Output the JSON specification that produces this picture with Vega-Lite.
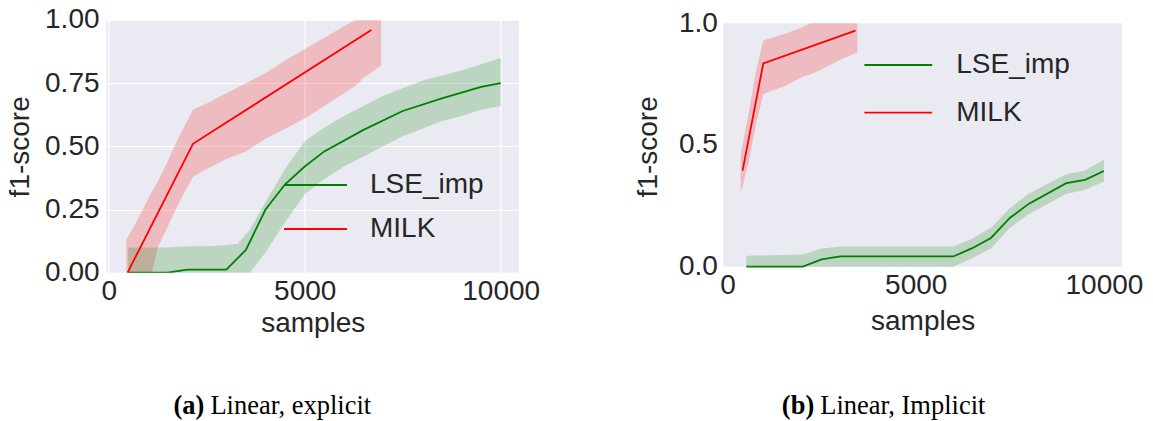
{
  "$schema": "https://vega.github.io/schema/vega-lite/v6.json",
  "background": "white",
  "padding": {"left": 6.5, "top": 6, "right": 0, "bottom": 0},
  "spacing": 93.8,
  "resolve": {"scale": {"stroke": "independent"}, "legend": {"stroke": "independent"}},
  "config": {
    "font": "Liberation Sans",
    "view": {"stroke": null},
    "axis": {
      "domain": false, "ticks": false, "tickSize": 0, "grid": true,
      "gridColor": "#FFFFFF", "gridWidth": 1.2,
      "labelFont": "Liberation Sans", "labelFontSize": 28, "labelColor": "#262626",
      "titleFont": "Liberation Sans", "titleFontSize": 28, "titleFontWeight": "normal", "titleColor": "#262626"
    }
  },
  "datasets": {
    "leftBand": [
      {"samples": 450, "series": "MILK", "lo": 0, "hi": 0.13},
      {"samples": 700, "series": "MILK", "lo": 0, "hi": 0.2},
      {"samples": 1000, "series": "MILK", "lo": 0, "hi": 0.29},
      {"samples": 1100, "series": "MILK", "lo": 0, "hi": 0.32},
      {"samples": 1250, "series": "MILK", "lo": 0.1, "hi": 0.36},
      {"samples": 1500, "series": "MILK", "lo": 0.18, "hi": 0.44},
      {"samples": 1800, "series": "MILK", "lo": 0.28, "hi": 0.54},
      {"samples": 2150, "series": "MILK", "lo": 0.38, "hi": 0.645},
      {"samples": 2500, "series": "MILK", "lo": 0.41, "hi": 0.67},
      {"samples": 3000, "series": "MILK", "lo": 0.45, "hi": 0.71},
      {"samples": 3500, "series": "MILK", "lo": 0.48, "hi": 0.75},
      {"samples": 4000, "series": "MILK", "lo": 0.53, "hi": 0.79},
      {"samples": 4500, "series": "MILK", "lo": 0.57, "hi": 0.84},
      {"samples": 5000, "series": "MILK", "lo": 0.61, "hi": 0.885},
      {"samples": 5500, "series": "MILK", "lo": 0.66, "hi": 0.93},
      {"samples": 6000, "series": "MILK", "lo": 0.71, "hi": 0.975},
      {"samples": 6300, "series": "MILK", "lo": 0.74, "hi": 1.0},
      {"samples": 6500, "series": "MILK", "lo": 0.77, "hi": 1.0},
      {"samples": 6950, "series": "MILK", "lo": 0.82, "hi": 1.0},
      {"samples": 500, "series": "LSE_imp", "lo": 0, "hi": 0.1},
      {"samples": 1000, "series": "LSE_imp", "lo": 0, "hi": 0.1},
      {"samples": 1500, "series": "LSE_imp", "lo": 0, "hi": 0.1},
      {"samples": 2000, "series": "LSE_imp", "lo": 0, "hi": 0.105},
      {"samples": 2500, "series": "LSE_imp", "lo": 0, "hi": 0.105},
      {"samples": 3000, "series": "LSE_imp", "lo": 0, "hi": 0.11},
      {"samples": 3300, "series": "LSE_imp", "lo": 0, "hi": 0.115},
      {"samples": 3600, "series": "LSE_imp", "lo": 0, "hi": 0.17},
      {"samples": 4000, "series": "LSE_imp", "lo": 0.08, "hi": 0.28},
      {"samples": 4500, "series": "LSE_imp", "lo": 0.2, "hi": 0.41},
      {"samples": 5000, "series": "LSE_imp", "lo": 0.31, "hi": 0.52},
      {"samples": 5500, "series": "LSE_imp", "lo": 0.37, "hi": 0.575},
      {"samples": 6000, "series": "LSE_imp", "lo": 0.42, "hi": 0.62},
      {"samples": 6500, "series": "LSE_imp", "lo": 0.46, "hi": 0.66},
      {"samples": 7000, "series": "LSE_imp", "lo": 0.5, "hi": 0.7},
      {"samples": 7500, "series": "LSE_imp", "lo": 0.54, "hi": 0.73},
      {"samples": 8000, "series": "LSE_imp", "lo": 0.57, "hi": 0.76},
      {"samples": 8500, "series": "LSE_imp", "lo": 0.6, "hi": 0.78},
      {"samples": 9000, "series": "LSE_imp", "lo": 0.62, "hi": 0.8},
      {"samples": 9500, "series": "LSE_imp", "lo": 0.645, "hi": 0.825},
      {"samples": 10000, "series": "LSE_imp", "lo": 0.66, "hi": 0.85}
    ],
    "leftLine": [
      {"samples": 500, "series": "LSE_imp", "f1": 0},
      {"samples": 1500, "series": "LSE_imp", "f1": 0},
      {"samples": 2000, "series": "LSE_imp", "f1": 0.012},
      {"samples": 3000, "series": "LSE_imp", "f1": 0.012},
      {"samples": 3500, "series": "LSE_imp", "f1": 0.09},
      {"samples": 4000, "series": "LSE_imp", "f1": 0.25},
      {"samples": 4500, "series": "LSE_imp", "f1": 0.35},
      {"samples": 5000, "series": "LSE_imp", "f1": 0.42},
      {"samples": 5500, "series": "LSE_imp", "f1": 0.48},
      {"samples": 6500, "series": "LSE_imp", "f1": 0.565},
      {"samples": 7500, "series": "LSE_imp", "f1": 0.64},
      {"samples": 8500, "series": "LSE_imp", "f1": 0.69},
      {"samples": 9500, "series": "LSE_imp", "f1": 0.735},
      {"samples": 10000, "series": "LSE_imp", "f1": 0.75},
      {"samples": 480, "series": "MILK", "f1": 0},
      {"samples": 2150, "series": "MILK", "f1": 0.51},
      {"samples": 6700, "series": "MILK", "f1": 0.96}
    ],
    "rightBand": [
      {"samples": 350, "series": "MILK", "lo": 0.3, "hi": 0.46},
      {"samples": 550, "series": "MILK", "lo": 0.42, "hi": 0.62},
      {"samples": 750, "series": "MILK", "lo": 0.58, "hi": 0.8},
      {"samples": 950, "series": "MILK", "lo": 0.71, "hi": 0.93},
      {"samples": 1500, "series": "MILK", "lo": 0.74, "hi": 0.955},
      {"samples": 2000, "series": "MILK", "lo": 0.78, "hi": 0.985},
      {"samples": 2200, "series": "MILK", "lo": 0.79, "hi": 1.0},
      {"samples": 2500, "series": "MILK", "lo": 0.81, "hi": 1.0},
      {"samples": 3000, "series": "MILK", "lo": 0.85, "hi": 1.0},
      {"samples": 3450, "series": "MILK", "lo": 0.88, "hi": 1.0},
      {"samples": 500, "series": "LSE_imp", "lo": 0, "hi": 0.045},
      {"samples": 2000, "series": "LSE_imp", "lo": 0, "hi": 0.05},
      {"samples": 2500, "series": "LSE_imp", "lo": 0, "hi": 0.075},
      {"samples": 3000, "series": "LSE_imp", "lo": 0, "hi": 0.083},
      {"samples": 6000, "series": "LSE_imp", "lo": 0, "hi": 0.083},
      {"samples": 6500, "series": "LSE_imp", "lo": 0.035, "hi": 0.115},
      {"samples": 7000, "series": "LSE_imp", "lo": 0.075, "hi": 0.16},
      {"samples": 7500, "series": "LSE_imp", "lo": 0.16, "hi": 0.24},
      {"samples": 8000, "series": "LSE_imp", "lo": 0.215, "hi": 0.3},
      {"samples": 9000, "series": "LSE_imp", "lo": 0.3, "hi": 0.38},
      {"samples": 9500, "series": "LSE_imp", "lo": 0.315, "hi": 0.395},
      {"samples": 10000, "series": "LSE_imp", "lo": 0.35, "hi": 0.44}
    ],
    "rightLine": [
      {"samples": 500, "series": "LSE_imp", "f1": 0},
      {"samples": 2000, "series": "LSE_imp", "f1": 0},
      {"samples": 2500, "series": "LSE_imp", "f1": 0.03},
      {"samples": 3000, "series": "LSE_imp", "f1": 0.042},
      {"samples": 6000, "series": "LSE_imp", "f1": 0.042},
      {"samples": 6500, "series": "LSE_imp", "f1": 0.076},
      {"samples": 7000, "series": "LSE_imp", "f1": 0.118},
      {"samples": 7500, "series": "LSE_imp", "f1": 0.2},
      {"samples": 8000, "series": "LSE_imp", "f1": 0.258},
      {"samples": 9000, "series": "LSE_imp", "f1": 0.343},
      {"samples": 9500, "series": "LSE_imp", "f1": 0.357},
      {"samples": 10000, "series": "LSE_imp", "f1": 0.393},
      {"samples": 400, "series": "MILK", "f1": 0.395},
      {"samples": 950, "series": "MILK", "f1": 0.835},
      {"samples": 3400, "series": "MILK", "f1": 0.97}
    ],
    "capA": [{"bold": "(a)", "rest": "Linear, explicit"}],
    "capB": [{"bold": "(b)", "rest": "Linear, Implicit"}]
  },
  "hconcat": [
    {
      "width": 412.5,
      "height": 252.7,
      "view": {"fill": "#EAEAF2", "stroke": null},
      "layer": [
        {
          "data": {"name": "leftBand"},
          "transform": [{"filter": "datum.series === 'MILK'"}],
          "mark": {"type": "area", "opacity": 0.2, "clip": true, "color": "#FF0000"},
          "encoding": {
            "x": {"field": "samples", "type": "quantitative",
                  "scale": {"domain": [-56, 10467], "nice": false, "zero": false},
                  "axis": {"values": [0, 5000, 10000], "format": "d", "labelPadding": 4.5, "titlePadding": 4, "title": "samples"}},
            "y": {"field": "lo", "type": "quantitative",
                  "scale": {"domain": [0, 1], "nice": false},
                  "axis": {"values": [0, 0.25, 0.5, 0.75, 1], "format": ".2f", "labelPadding": 7.5, "titlePadding": 10, "title": "f1-score"}},
            "y2": {"field": "hi"}
          }
        },
        {
          "data": {"name": "leftBand"},
          "transform": [{"filter": "datum.series === 'LSE_imp'"}],
          "mark": {"type": "area", "opacity": 0.2, "clip": true, "color": "#008000"},
          "encoding": {
            "x": {"field": "samples", "type": "quantitative", "title": "samples"},
            "y": {"field": "lo", "type": "quantitative", "title": "f1-score"},
            "y2": {"field": "hi"}
          }
        },
        {
          "data": {"name": "leftLine"},
          "mark": {"type": "line", "strokeWidth": 1.8, "clip": true},
          "encoding": {
            "x": {"field": "samples", "type": "quantitative", "title": "samples"},
            "y": {"field": "f1", "type": "quantitative", "title": "f1-score"},
            "stroke": {"field": "series", "type": "nominal",
                       "scale": {"domain": ["LSE_imp", "MILK"], "range": ["#008000", "#FF0000"]},
                       "legend": {"orient": "none", "legendX": 195, "legendY": 151, "title": null,
                                  "symbolType": "M-3,0H3", "symbolSize": 441, "symbolStrokeWidth": 1.8,
                                  "symbolFillColor": "transparent",
                                  "labelFont": "Liberation Sans", "labelFontSize": 28, "labelColor": "#262626",
                                  "labelOffset": 40.5, "rowPadding": 16, "padding": 0}}
          }
        },
        {
          "data": {"name": "capA"},
          "mark": {"type": "text", "font": "Liberation Serif", "fontSize": 26.5, "fontWeight": "bold", "align": "right", "baseline": "alphabetic", "dx": -3, "color": "#000000"},
          "encoding": {
            "x": {"datum": 2518, "type": "quantitative", "title": "samples"},
            "y": {"datum": -0.5604, "type": "quantitative", "title": "f1-score"},
            "text": {"field": "bold"}
          }
        },
        {
          "data": {"name": "capA"},
          "mark": {"type": "text", "font": "Liberation Serif", "fontSize": 26.5, "align": "left", "baseline": "alphabetic", "dx": 3, "color": "#000000"},
          "encoding": {
            "x": {"datum": 2518, "type": "quantitative", "title": "samples"},
            "y": {"datum": -0.5604, "type": "quantitative", "title": "f1-score"},
            "text": {"field": "rest"}
          }
        }
      ]
    },
    {
      "width": 398.7,
      "height": 252.7,
      "view": {"fill": null, "stroke": null},
      "layer": [
        {
          "data": {"values": [{"bg": 1}]},
          "mark": {"type": "rect", "color": "#EAEAF2"},
          "encoding": {
            "y": {"datum": 0, "type": "quantitative", "title": "f1-score"},
            "y2": {"datum": 1}
          }
        },
        {
          "data": {"name": "rightBand"},
          "transform": [{"filter": "datum.series === 'MILK'"}],
          "mark": {"type": "area", "opacity": 0.2, "clip": true, "color": "#FF0000"},
          "encoding": {
            "x": {"field": "samples", "type": "quantitative",
                  "scale": {"domain": [-112, 10480], "nice": false, "zero": false},
                  "axis": {"values": [0, 5000, 10000], "format": "d", "labelPadding": -1.5, "titlePadding": 8.5, "title": "samples"}},
            "y": {"field": "lo", "type": "quantitative",
                  "scale": {"domain": [-0.0247, 1.0136], "nice": false, "zero": false},
                  "axis": {"values": [0, 0.5, 1], "format": ".1f", "labelPadding": 6, "titlePadding": 16, "title": "f1-score"}},
            "y2": {"field": "hi"}
          }
        },
        {
          "data": {"name": "rightBand"},
          "transform": [{"filter": "datum.series === 'LSE_imp'"}],
          "mark": {"type": "area", "opacity": 0.2, "clip": true, "color": "#008000"},
          "encoding": {
            "x": {"field": "samples", "type": "quantitative", "title": "samples"},
            "y": {"field": "lo", "type": "quantitative", "title": "f1-score"},
            "y2": {"field": "hi"}
          }
        },
        {
          "data": {"name": "rightLine"},
          "mark": {"type": "line", "strokeWidth": 1.8, "clip": true},
          "encoding": {
            "x": {"field": "samples", "type": "quantitative", "title": "samples"},
            "y": {"field": "f1", "type": "quantitative", "title": "f1-score"},
            "stroke": {"field": "series", "type": "nominal",
                       "scale": {"domain": ["LSE_imp", "MILK"], "range": ["#008000", "#FF0000"]},
                       "legend": {"orient": "none", "legendX": 161, "legendY": 31, "title": null,
                                  "symbolType": "M-3,0H3", "symbolSize": 510, "symbolStrokeWidth": 1.8,
                                  "symbolFillColor": "transparent",
                                  "labelFont": "Liberation Sans", "labelFontSize": 28, "labelColor": "#262626",
                                  "labelOffset": 44, "rowPadding": 19.7, "padding": 0}}
          }
        },
        {
          "data": {"name": "capB"},
          "mark": {"type": "text", "font": "Liberation Serif", "fontSize": 26.5, "fontWeight": "bold", "align": "right", "baseline": "alphabetic", "dx": -3, "color": "#000000"},
          "encoding": {
            "x": {"datum": 2383, "type": "quantitative", "title": "samples"},
            "y": {"datum": -0.6064, "type": "quantitative", "title": "f1-score"},
            "text": {"field": "bold"}
          }
        },
        {
          "data": {"name": "capB"},
          "mark": {"type": "text", "font": "Liberation Serif", "fontSize": 26.5, "align": "left", "baseline": "alphabetic", "dx": 3, "color": "#000000"},
          "encoding": {
            "x": {"datum": 2383, "type": "quantitative", "title": "samples"},
            "y": {"datum": -0.6064, "type": "quantitative", "title": "f1-score"},
            "text": {"field": "rest"}
          }
        }
      ]
    }
  ]
}
